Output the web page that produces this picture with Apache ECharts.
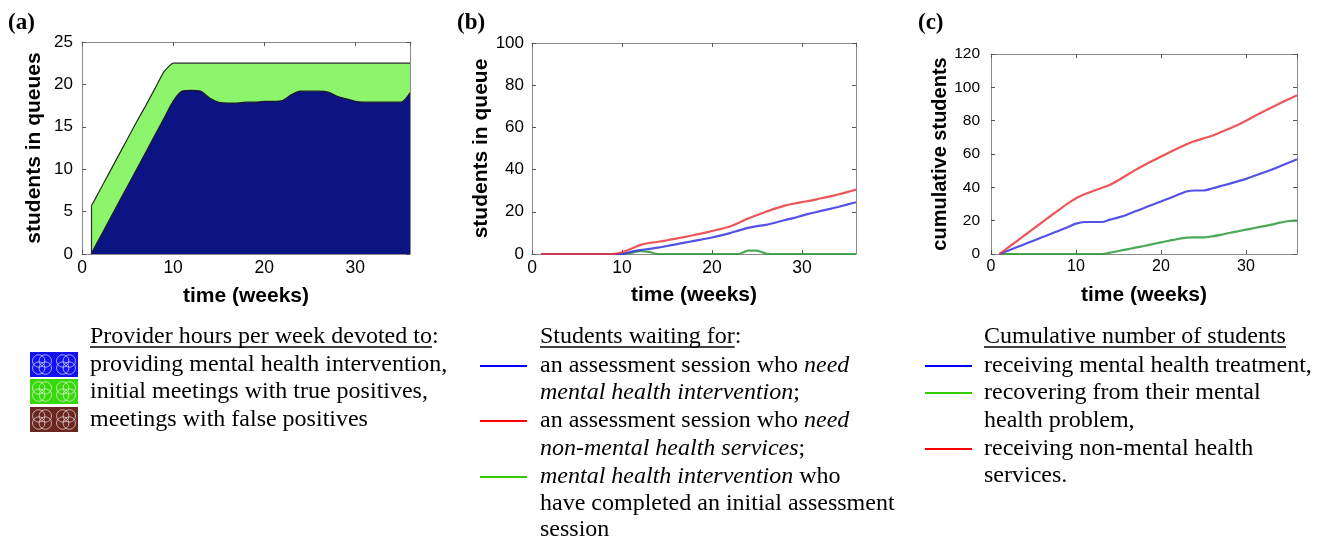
<!DOCTYPE html>
<html><head><meta charset="utf-8">
<script src="https://cdn.jsdelivr.net/npm/echarts@6/dist/echarts.min.js"></script>
<style>html,body{margin:0;padding:0;background:#fff}#c{width:1320px;height:538px}</style>
</head><body><div id="c"></div>
<script>
// ---------- DATA ----------
const weeks = [1,2,3,4,5,6,7,8,9,10,11,12,13,14,15,16,17,18,19,20,21,22,23,24,25,26,27,28,29,30,31,32,33,34,35,36];
// (a) provider hours: totals (green top) and mental health intervention (blue)
const aTotal = [5.6,7.6,9.6,11.6,13.6,15.6,17.5,19.5,21.5,22.5,22.5,22.5,22.5,22.5,22.5,22.5,22.5,22.5,22.5,22.5,22.5,22.5,22.5,22.5,22.5,22.5,22.5,22.5,22.5,22.5,22.5,22.5,22.5,22.5,22.5,22.5];
const aIntervention = [0,2,4,6,8,10,12,14,16,18,19.2,19.3,19.2,18.4,17.9,17.8,17.8,17.9,17.9,18.0,18.0,18.1,18.8,19.2,19.2,19.2,19.1,18.6,18.3,18.0,17.9,17.9,17.9,17.9,17.9,19.0];
// (b) students waiting
const bNeedMH = [0,0,0,0,0,0,0,0,0,0,1.0,1.8,2.4,3.0,3.8,4.6,5.4,6.2,7.0,7.8,8.8,9.9,11.2,12.4,13.2,13.8,14.8,16.0,17.0,18.2,19.3,20.3,21.3,22.3,23.4,24.5];
const bNeedNonMH = [0,0,0,0,0,0,0,0,0,0.8,2.5,4.2,5.2,5.8,6.5,7.3,8.1,9.0,9.9,10.9,11.9,13.0,14.8,16.8,18.5,20.0,21.5,22.8,23.8,24.6,25.3,26.3,27.2,28.2,29.3,30.5];
const bIntervention = [0,0,0,0,0,0,0,0,0,0,0.5,1.4,1.0,0,0,0,0,0,0,0,0,0,0,1.6,1.6,0.2,0,0,0,0,0,0,0,0,0,0];
// (c) cumulative students
const cTreatment = [0,2,4,6,8,10,12,14,16,18.2,19.2,19.2,19.2,20.6,22,23.6,25.6,27.6,29.6,31.5,33.5,35.5,37.5,38.1,38.1,39.3,40.7,42.1,43.6,45.1,46.9,48.7,50.5,52.6,54.7,56.9];
const cRecovering = [0,0,0,0,0,0,0,0,0,0,0,0,0,0.8,1.8,2.8,3.8,4.8,5.9,7.0,8.0,9.0,9.8,10.0,10.0,10.6,11.5,12.6,13.6,14.6,15.6,16.6,17.6,18.8,19.8,20.0];
const cNonMH = [0,3.8,7.6,11.4,15.2,19,22.8,26.5,30.2,33.5,35.9,37.8,39.6,41.5,44.3,47.4,50.5,53.3,55.9,58.5,61.0,63.5,65.9,67.8,69.4,70.9,73.0,75.2,77.4,80.0,82.7,85.4,87.9,90.4,92.8,95.2];
const xTicks = {min:0, max:36, interval:10};
const yAxesDef = [{min:0,max:25,interval:5},{min:0,max:100,interval:20},{min:0,max:120,interval:20}];
const yNames = ['students in queues','students in queue','cumulative students'];
const xName = 'time (weeks)';
const panelLabels = ['(a)','(b)','(c)'];

// ---------- LAYOUT ----------
const grids = [
  {left:82, top:42, width:328, height:212},
  {left:532, top:43, width:324, height:211},
  {left:991, top:54, width:306, height:200}
];
const tickFont = [17, 17, 15.5];
const yLabMargin = [9, 8, 11];
const yNameGap = [37, 38, 36];
const xNameGap = [32, 31, 31];
const sans = '"Liberation Sans", Arial, sans-serif';
const serif = '"Liberation Serif", "Times New Roman", serif';
const frameColor = '#8a8a8a';

const pair = arr => weeks.map((w,i)=>[w,arr[i]]);
const frameLine = {onZero:false, lineStyle:{color:frameColor, width:1}};
const tick = {show:true, inside:true, length:4, lineStyle:{color:'#555'}};

const xAxis=[], yAxis=[];
grids.forEach((g,i)=>{
  xAxis.push({type:'value', gridIndex:i, position:'bottom', min:xTicks.min, max:xTicks.max, interval:xTicks.interval,
    name:xName, nameLocation:'middle', nameGap:xNameGap[i],
    nameTextStyle:{fontFamily:sans, fontWeight:'bold', fontSize:21, color:'#000'},
    axisLine:frameLine, axisTick:tick,
    axisLabel:{fontFamily:sans, fontSize:tickFont[i]+0.5, color:'#000', margin:5, showMaxLabel:false},
    splitLine:{show:false}});
  xAxis.push({type:'value', gridIndex:i, position:'top', min:xTicks.min, max:xTicks.max, interval:xTicks.interval,
    axisLine:frameLine, axisTick:tick, axisLabel:{show:false}, splitLine:{show:false}});
  yAxis.push(Object.assign({type:'value', gridIndex:i, position:'left',
    name:yNames[i], nameLocation:'middle', nameGap:yNameGap[i],
    nameTextStyle:{fontFamily:sans, fontWeight:'bold', fontSize:i===2?20:21, color:'#000'},
    axisLine:Object.assign({show:true}, frameLine), axisTick:tick,
    axisLabel:{fontFamily:sans, fontSize:tickFont[i], color:'#000', margin:yLabMargin[i]},
    splitLine:{show:false}}, yAxesDef[i]));
  yAxis.push(Object.assign({type:'value', gridIndex:i, position:'right',
    axisLine:Object.assign({show:true}, frameLine), axisTick:tick,
    axisLabel:{show:false}, splitLine:{show:false}}, yAxesDef[i]));
});

function lineSeries(gi, data, color){
  return {type:'line', xAxisIndex:gi*2, yAxisIndex:gi*2, data:pair(data), showSymbol:false, smooth:0.25,
    lineStyle:{color:color, width:2.2, opacity:0.85}, z:3};
}
const series = [
  {type:'line', xAxisIndex:0, yAxisIndex:0, data:pair(aTotal), showSymbol:false, smooth:0.15,
    lineStyle:{color:'#2a2a2a', width:1.2}, areaStyle:{color:'#8cf56c', opacity:1}, z:2,
    markLine:{symbol:'none', silent:true, label:{show:false}, lineStyle:{color:'#2a2a2a', width:1.2, type:'solid'},
      data:[[{coord:[weeks[0],0]},{coord:[weeks[0],aTotal[0]]}]]}},
  {type:'line', xAxisIndex:0, yAxisIndex:0, data:pair(aIntervention), showSymbol:false, smooth:0.3,
    lineStyle:{color:'#1a1a2a', width:1.2}, areaStyle:{color:'#0b1482', opacity:1}, z:3},
  lineSeries(1, bIntervention, '#2f9a3a'),
  lineSeries(1, bNeedMH, '#3434e0'),
  lineSeries(1, bNeedNonMH, '#e8383c'),
  lineSeries(2, cRecovering, '#2f9a3a'),
  lineSeries(2, cTreatment, '#3434e0'),
  lineSeries(2, cNonMH, '#e8383c')
];

// ---------- LEGENDS (graphic) ----------
const legFont = 24;
const mctx = document.createElement('canvas').getContext('2d');
mctx.font = legFont + 'px "Liberation Serif"';
const tw = s => mctx.measureText(s).width;

const graphic = [];
const labX = [8, 457, 918];
panelLabels.forEach((t,i)=>graphic.push({type:'text', left:labX[i], top:12,
  style:{text:t, font:'bold 23px ' + serif, fill:'#000'}}));

function txt(x, y, text, rich){
  graphic.push({type:'text', x:x, y:y, style:{text:text, fontFamily:serif, fontSize:legFont, fill:'#000',
    verticalAlign:'middle', align:'left', rich:rich||{}}});
}
function header(x, y, text, tail){
  txt(x, y, text + (tail||''));
  const w = tw(text);
  graphic.push({type:'line', shape:{x1:x, y1:y+10, x2:x+w, y2:y+10}, style:{stroke:'#000', lineWidth:1.3}});
}
function legLine(x, y, color){
  graphic.push({type:'line', shape:{x1:x, y1:y, x2:x+47, y2:y}, style:{stroke:color, lineWidth:2}});
}
function swatch(x, y, color){
  const children=[{type:'rect', shape:{x:0, y:0, width:48, height:25}, style:{fill:color}}];
  [0,24].forEach(cx=>{
    [[6,6],[18,6],[6,19],[18,19]].forEach(p=>{
      children.push({type:'circle', shape:{cx:cx+12+(p[0]-12)*0.55, cy:12.5+(p[1]-12.5)*0.55, r:6.2},
        style:{fill:null, stroke:'rgba(255,255,255,0.75)', lineWidth:0.8}});
    });
  });
  graphic.push({type:'group', x:x, y:y, children:children});
}
const ital = {i:{fontStyle:'italic', fontFamily:serif, fontSize:legFont, fill:'#000'}};
// panel a
header(90, 337, 'Provider hours per week devoted to', ':');
swatch(30, 352, '#1212f0'); txt(90, 365, 'providing mental health intervention,');
swatch(30, 379, '#38d80c'); txt(90, 392, 'initial meetings with true positives,');
swatch(30, 407, '#6b2620'); txt(90, 420, 'meetings with false positives');
// panel b
header(540, 337, 'Students waiting for', ':');
legLine(480, 366, '#0000ff'); txt(540, 366, 'an assessment session who {i|need}', ital);
txt(540, 393, '{i|mental health intervention};', ital);
legLine(480, 421, '#ff0000'); txt(540, 421, 'an assessment session who {i|need}', ital);
txt(540, 449, '{i|non-mental health services};', ital);
legLine(480, 477, '#33cc00'); txt(540, 477, '{i|mental health intervention} who', ital);
txt(540, 504, 'have completed an initial assessment');
txt(540, 530, 'session');
// panel c
header(984, 337, 'Cumulative number of students', '');
legLine(925, 366, '#0000ff'); txt(984, 366, 'receiving mental health treatment,');
legLine(925, 393, '#33cc00'); txt(984, 393, 'recovering from their mental');
txt(984, 421, 'health problem,');
legLine(925, 449, '#ff0000'); txt(984, 449, 'receiving non-mental health');
txt(984, 476, 'services.');

const chart = echarts.init(document.getElementById('c'), null, {renderer:'canvas'});
chart.setOption({animation:false, backgroundColor:'#fff', grid:grids, xAxis:xAxis, yAxis:yAxis, series:series, graphic:graphic});
</script></body></html>
